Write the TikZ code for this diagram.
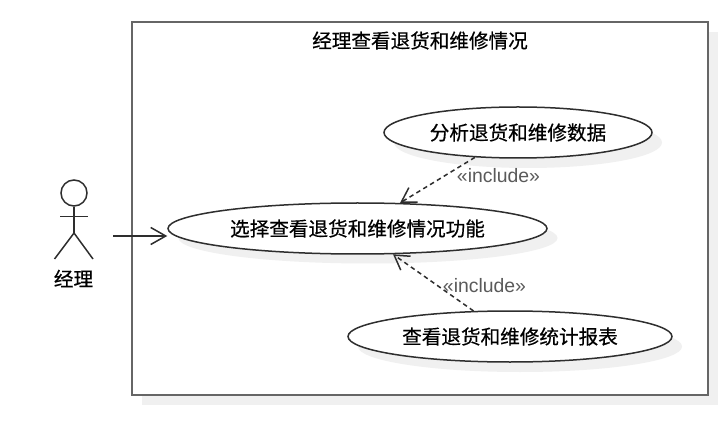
\documentclass[tikz,border=0pt]{standalone}
\usepackage{fontspec}
\setmainfont{Liberation Sans}
\newfontfamily\cjk[FakeBold=0.5]{Noto Sans CJK SC}
\usetikzlibrary{arrows.meta,shapes.geometric}
\definecolor{dropgray}{HTML}{F0F0F0}
\definecolor{ink}{HTML}{2E2E2E}
\definecolor{frameline}{HTML}{666666}
\definecolor{lab}{HTML}{5A5A5A}
\tikzset{
  cn/.style={font=\cjk\fontsize{19.6}{22}\selectfont, text=black},
  usecase/.style={ellipse, draw=ink, line width=1.5pt, fill=white, inner sep=0pt, cn},
  caseshadow/.style={ellipse, fill=dropgray, inner sep=0pt},
  limb/.style={draw=ink, line width=1.5pt},
  dep/.style={draw=ink, line width=1.5pt, dash pattern=on 4.5pt off 3.5pt,
    -{Straight Barb[length=14pt,width=17pt,line width=1.5pt]}},
  assoc/.style={draw=ink, line width=1.5pt,
    -{Straight Barb[length=15pt,width=17pt,line width=1.5pt]}},
  stereo/.style={font=\fontsize{19.4}{22}\selectfont, text=lab, inner sep=0pt}
}
\begin{document}
\begin{tikzpicture}[x=1pt,y=-1pt]
\useasboundingbox (0,0) rectangle (727,427);
% system boundary
\fill[dropgray] (142,32) rectangle (718,405);
\draw[frameline, line width=2pt, fill=white] (132,22) rectangle (708,395);
\node[cn, inner sep=0pt] (title) at (420,40.5) {经理查看退货和维修情况};
% shadows
\node[caseshadow, minimum width=268pt, minimum height=51pt] (sa) at (528,142.5) {};
\node[caseshadow, minimum width=379pt, minimum height=51pt] (sb) at (368,238) {};
\node[caseshadow, minimum width=324pt, minimum height=51pt] (sc) at (520,346.5) {};
% use cases
\node[usecase, minimum width=268pt, minimum height=51pt] (A) at (518,132.5) {分析退货和维修数据};
\node[usecase, minimum width=379pt, minimum height=51pt] (B) at (357.5,228.5) {选择查看退货和维修情况功能};
\node[usecase, minimum width=324pt, minimum height=51pt] (C) at (510,336.5) {查看退货和维修统计报表};
% actor
\node[circle, draw=ink, line width=1.5pt, minimum size=26pt, inner sep=0pt] (head) at (74,193) {};
\coordinate (hip) at (74,233);
\coordinate (shl) at (60,216.5);
\coordinate (shr) at (87.5,216.5);
\coordinate (footl) at (54.5,259);
\coordinate (footr) at (93,259);
\draw[limb] (head.south) -- (hip);
\draw[limb] (shl) -- (shr);
\draw[limb] (footl) -- (hip) -- (footr);
\node[cn, inner sep=0pt] (actor) at (73.5,278.5) {经理};
% connectors
\coordinate (hand) at (113,236);
\draw[assoc] (hand) -- (hand -| B.west);
\draw[dep] (A.210.5) -- (B.31.2);
\draw[dep] (C.145.1) -- (B.324.2);
\node[stereo] (la) at (498.5,176) {«include»};
\node[stereo] (lc) at (484.5,286) {«include»};
\end{tikzpicture}
\end{document}
